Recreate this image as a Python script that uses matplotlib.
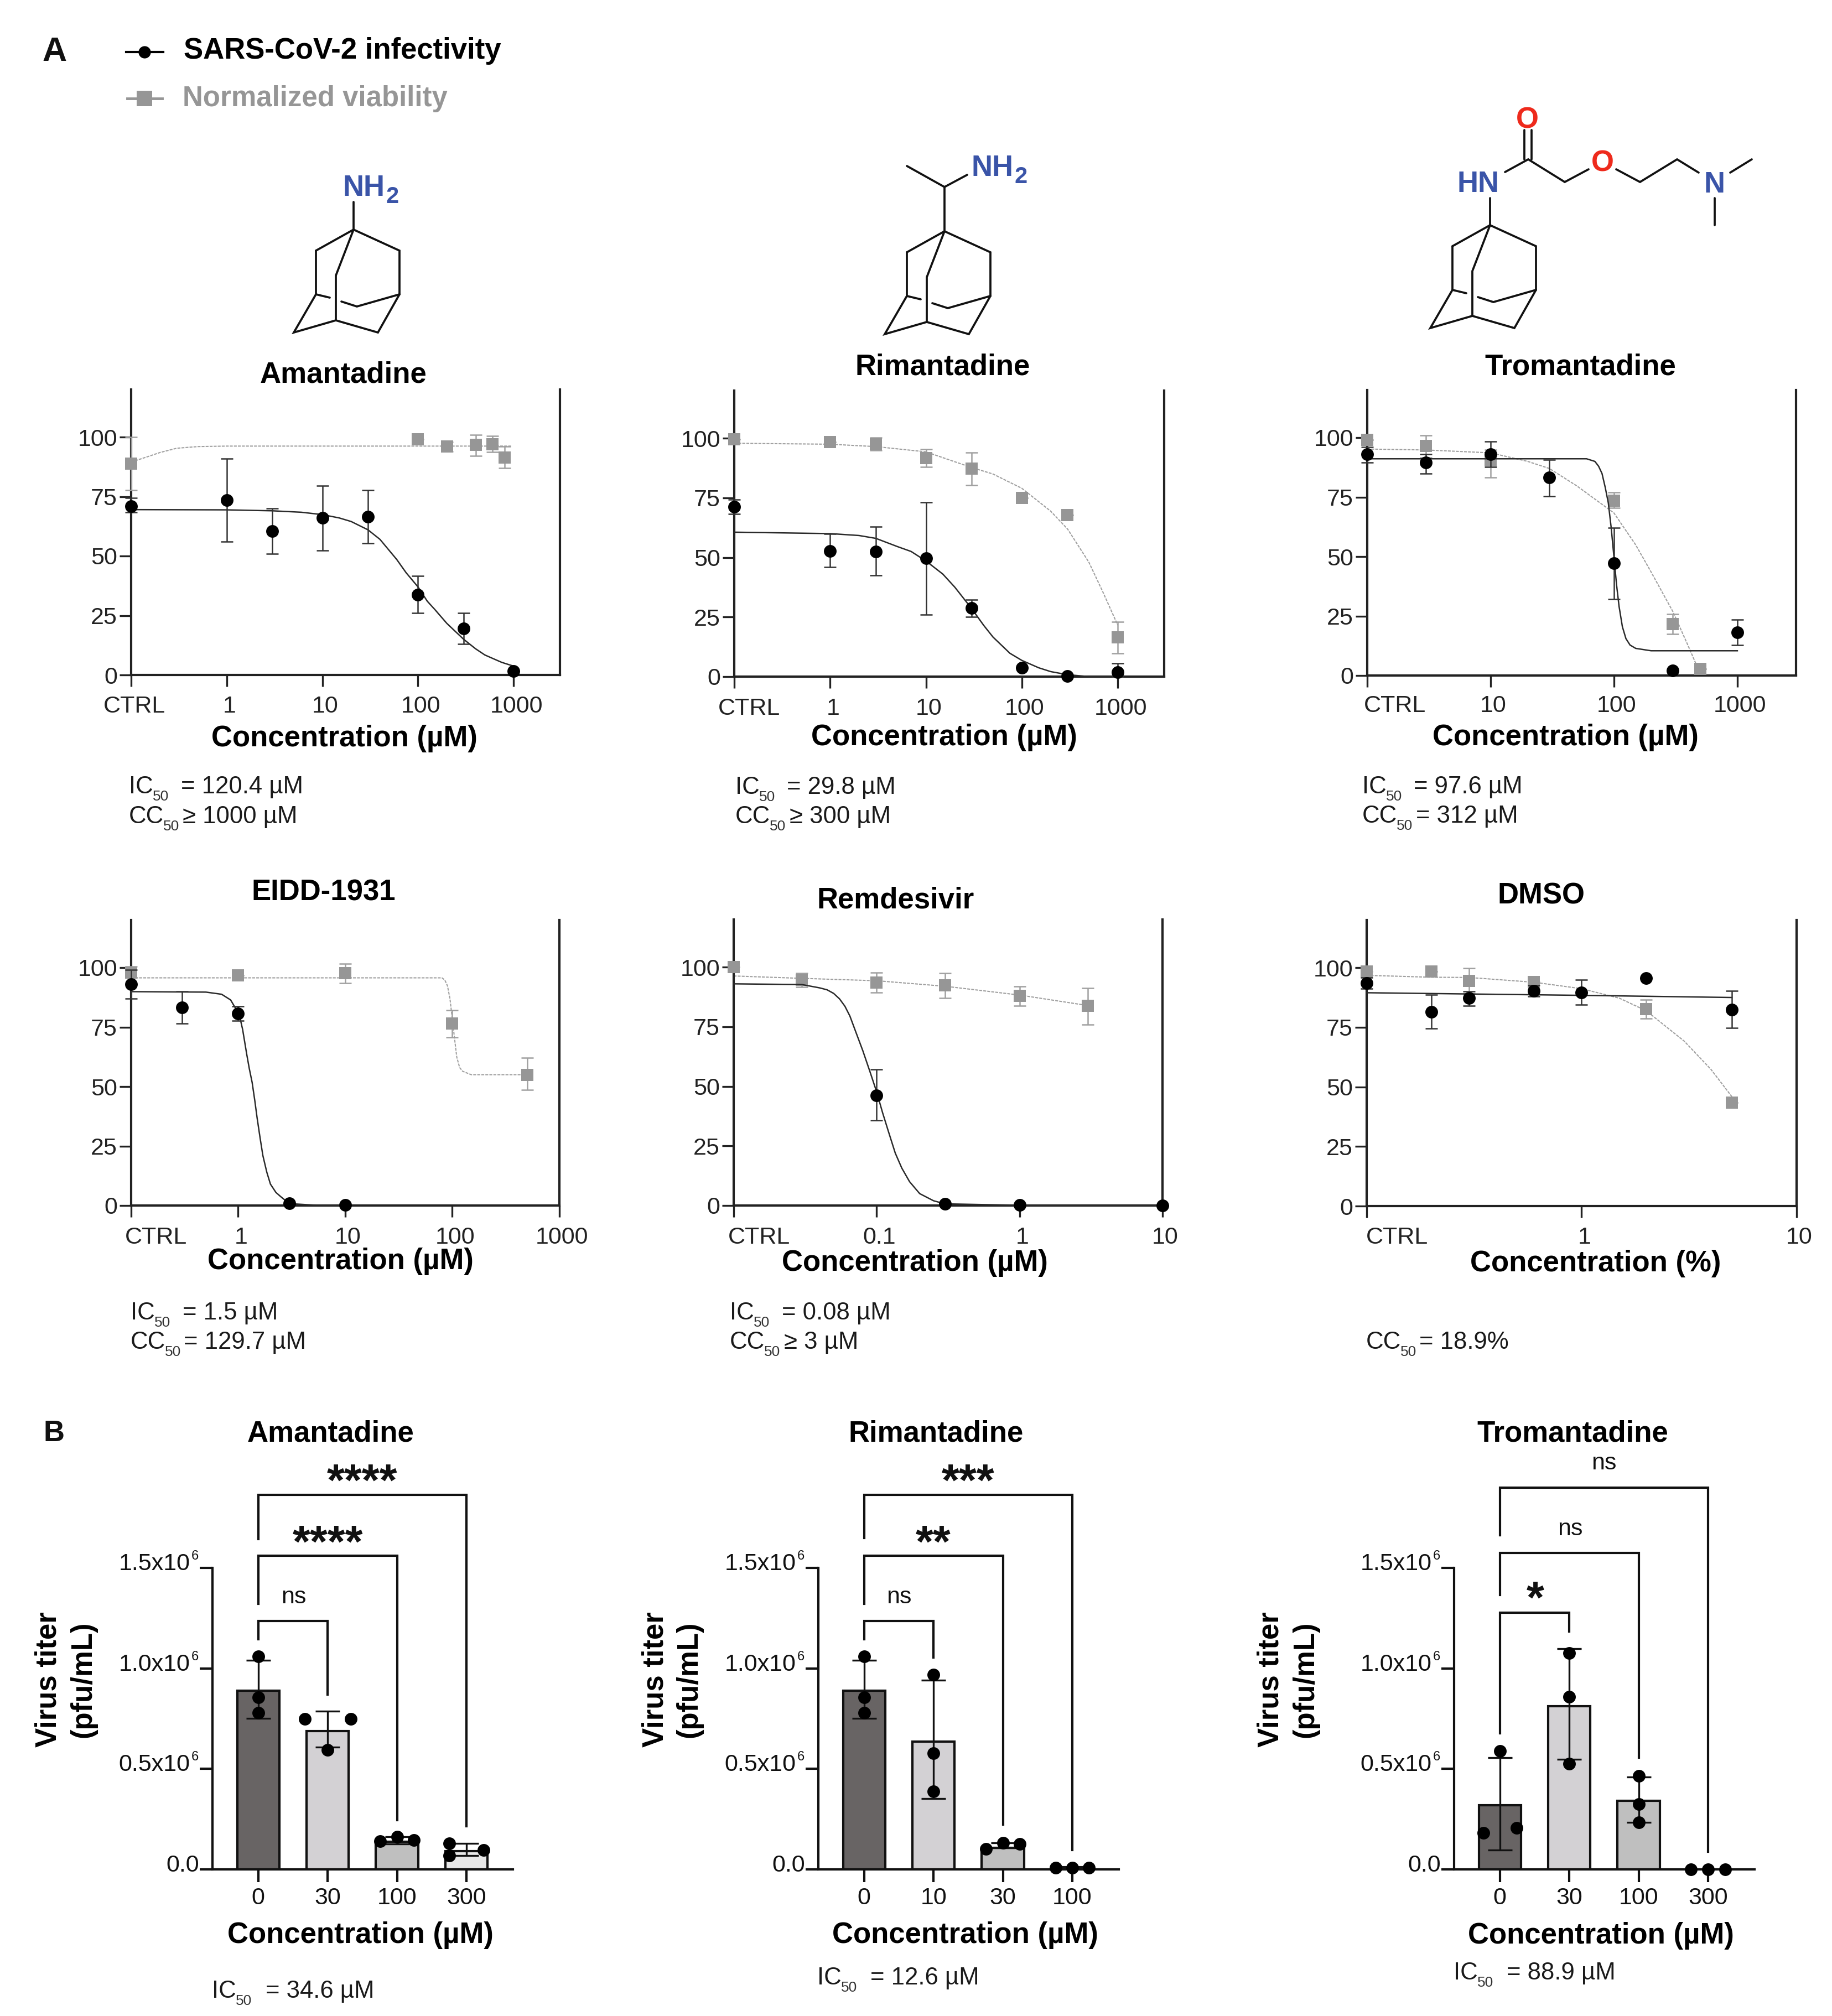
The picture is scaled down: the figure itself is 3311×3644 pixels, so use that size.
import matplotlib
matplotlib.use('Agg')
import matplotlib.pyplot as plt
from matplotlib.transforms import ScaledTranslation

plt.rcParams['font.family'] = ['Liberation Sans', 'DejaVu Sans']

W, H = 3312, 3644
BLACK = '#111111'
GREY = '#969696'
GREY_LINE = '#a0a0a0'
BLUE = '#3a54a8'
RED = '#ee2a1c'

# panel A data: concentration, mean, upper and lower error bar, then fit curve points
aman_x = [0.1, 1, 3, 10, 30, 100, 300, 1000]
aman_inf = [71, 73.6, 60.5, 66, 66.4, 33.7, 19.5, 1.7]
aman_inf_hi = [74.4, 91, 70, 79.6, 77.7, 41.6, 26, 1.7]
aman_inf_lo = [68.4, 56, 51, 52.4, 55.3, 26, 13, 1.7]
aman_via_x = [0.1, 100, 200, 400, 600, 800]
aman_via = [88.8, 99, 96, 96.7, 97, 91.3]
aman_via_hi = [100, 99, 98, 101, 100.4, 96]
aman_via_lo = [77.7, 99, 94, 92, 93.7, 87]
aman_fit_x = [0.1, 1, 3, 6, 10, 15, 20, 30, 40, 60, 75, 100, 125, 150, 200, 250, 300, 400, 500, 600, 750, 1000]
aman_fit = [69.5, 69.4, 69, 68.4, 67.4, 66, 64.5, 61, 57, 48.5, 43, 37, 31, 27.5, 21.7, 18, 15, 11, 8.4, 7, 5.3, 3.7]
aman_via_fit_x = [0.1, 0.15, 0.2, 0.3, 0.5, 1, 950]
aman_via_fit = [89.5, 91.8, 93.5, 95.3, 96, 96.2, 96.2]

rima_x = [0.1, 1, 3, 10, 30, 100, 300, 1000]
rima_inf = [71.2, 52.8, 52.5, 49.6, 28.8, 3.6, 0.3, 1.9]
rima_inf_hi = [74.2, 60, 62.8, 73.2, 32.2, 3.6, 0.3, 5.5]
rima_inf_lo = [68.2, 46, 42.4, 25.9, 25, 3.6, 0.3, 0]
rima_via_x = [0.1, 1, 3, 10, 30, 100, 300, 1000]
rima_via = [99.6, 98.5, 97.6, 91.7, 87.2, 75, 67.8, 16.4]
rima_via_hi = [99.6, 98.5, 100.3, 95.3, 94, 75, 67.8, 22.9]
rima_via_lo = [99.6, 98.5, 94.9, 87.9, 80.4, 75, 67.8, 9.7]
rima_fit_x = [0.1, 1, 2, 3, 5, 7, 10, 15, 20, 30, 40, 50, 75, 100, 150, 200, 300, 500, 1000]
rima_fit = [60.6, 60, 59.2, 58, 54.6, 52.5, 48.5, 43, 37.5, 28.5, 21.5, 16.6, 9.8, 6.8, 3.7, 2.1, 0.8, 0, 0]
rima_via_fit_x = [0.1, 1, 3, 10, 30, 50, 100, 200, 300, 500, 700, 1000]
rima_via_fit = [97.9, 97.5, 96.5, 94.3, 87.7, 85, 79, 69.4, 61.9, 48, 35.5, 21.6]

trom_x = [1, 3, 10, 30, 100, 300, 1000]
trom_inf = [93, 89.5, 93, 83.2, 47.2, 2, 18.2]
trom_inf_hi = [96, 93, 98.3, 90.7, 62, 2, 23.6]
trom_inf_lo = [89.6, 85, 87.6, 75.4, 32, 2, 12.8]
trom_via_x = [1, 3, 10, 100, 300, 500]
trom_via = [99, 96.6, 90.4, 73.5, 21.7, 2.7]
trom_via_hi = [99, 101, 95, 77, 25.9, 2.7]
trom_via_lo = [99, 91.7, 83.2, 70.4, 17.4, 2.7]
trom_fit_x = [1, 60, 70, 75, 80, 85, 90, 95, 100, 105, 110, 117, 125, 135, 150, 200, 1000]
trom_fit = [91.1, 91.1, 90, 88, 84.9, 79, 72.5, 62, 49.7, 38, 29, 20.5, 15.5, 12.8, 11.4, 10.4, 10.4]
trom_via_fit_x = [1, 3, 10, 20, 30, 50, 100, 150, 200, 300, 400, 470]
trom_via_fit = [95.2, 94.8, 93.6, 90, 87, 79.7, 68.3, 54.9, 43.5, 26.9, 12.4, 4]

eidd_x = [0.1, 0.3, 1, 3, 10]
eidd_inf = [93, 83.3, 80.8, 1, 0.2]
eidd_inf_hi = [99, 90, 83.7, 1, 0.2]
eidd_inf_lo = [87, 76.4, 77.7, 1, 0.2]
eidd_via_x = [0.1, 1, 10, 100, 500]
eidd_via = [98, 96.8, 97.7, 76.4, 55]
eidd_via_hi = [100.4, 96.8, 101.6, 82, 62]
eidd_via_lo = [95.7, 96.8, 93.6, 70.8, 48.5]
eidd_fit_x = [0.1, 0.5, 0.7, 0.85, 1, 1.05, 1.1, 1.2, 1.27, 1.35, 1.43, 1.5, 1.6, 1.7, 1.85, 2, 2.25, 2.5, 3, 5, 10]
eidd_fit = [89.9, 89.7, 88.8, 86.4, 81, 78, 74, 63.7, 57.5, 51.7, 44, 37, 28.5, 21, 14, 9, 5.5, 3.7, 0.8, 0.2, 0]
eidd_via_fit_x = [0.1, 80, 85, 90, 95, 100, 105, 110, 117, 125, 150, 500]
eidd_via_fit = [95.7, 95.7, 94.8, 92.4, 87, 78.4, 70, 62.4, 58, 56.4, 55, 55]

remd_x = [0.1, 0.3, 1, 10]
remd_inf = [46.3, 0.7, 0.3, 0]
remd_inf_hi = [57, 0.7, 0.3, 0]
remd_inf_lo = [35.7, 0.7, 0.3, 0]
remd_via_x = [0.01, 0.03, 0.1, 0.3, 1, 3]
remd_via = [100, 94.7, 93.5, 92.3, 88, 83.8]
remd_via_hi = [100, 97.6, 97.7, 97.6, 92, 91.2]
remd_via_lo = [100, 91.6, 89.3, 87, 83.9, 76]
remd_fit_x = [0.01, 0.03, 0.04, 0.045, 0.05, 0.055, 0.06, 0.065, 0.07, 0.08, 0.09, 0.1, 0.11, 0.12, 0.135, 0.15,
              0.17, 0.2, 0.25, 0.3, 1, 10]
remd_fit = [93, 92.7, 91.3, 90.5, 89, 86.7, 83.6, 79.5, 74.3, 65, 56, 47.7, 39, 31.7, 22, 15.7,
            10, 5, 2, 0.7, 0.1, 0]
remd_via_fit_x = [0.01, 0.03, 0.1, 0.3, 1, 3]
remd_via_fit = [96.3, 95.3, 94.3, 92, 88.3, 83.9]

dmso_x = [0.1, 0.2, 0.3, 0.6, 1, 2, 5]
dmso_inf = [93.5, 81.5, 87.2, 90.2, 89.7, 95.6, 82.4]
dmso_inf_hi = [95.8, 88.6, 90, 92.5, 95, 95.6, 90.4]
dmso_inf_lo = [91.2, 74.6, 84, 88, 84.4, 95.6, 74.7]
dmso_via_x = [0.1, 0.2, 0.3, 0.6, 2, 5]
dmso_via = [98.5, 98.5, 94.4, 93.9, 82.6, 43.3]
dmso_via_hi = [98.5, 98.5, 99.9, 93.9, 86.6, 43.3]
dmso_via_lo = [98.5, 98.5, 89.2, 93.9, 78.6, 43.3]
dmso_fit_x = [0.1, 1, 5]
dmso_fit = [89.5, 88.4, 87.5]
dmso_via_fit_x = [0.1, 0.2, 0.3, 0.6, 1, 1.5, 2, 3, 4, 5]
dmso_via_fit = [96.8, 96, 95.9, 93.9, 91.2, 87.2, 81.9, 69.2, 57.3, 45.9]

# panel B data, titres in units of 1e6 pfu/mL
b_dose_aman = ['0', '30', '100', '300']
b_dose_rima = ['0', '10', '30', '100']
b_dose_trom = ['0', '30', '100', '300']
b_bar_aman = [0.889, 0.687, 0.135, 0.09]
b_bar_rima = [0.889, 0.634, 0.106, 0.01]
b_bar_trom = [0.317, 0.812, 0.339, 0]
b_hi_aman = [1.04, 0.787, 0.16, 0.129]
b_lo_aman = [0.752, 0.607, 0.125, 0.067]
b_hi_rima = [1.04, 0.94, 0.131, 0.01]
b_lo_rima = [0.752, 0.35, 0.106, 0.01]
b_hi_trom = [0.554, 1.098, 0.46, 0]
b_lo_trom = [0.096, 0.546, 0.233, 0]
b_dots_aman = [[1.059, 0.856, 0.777], [0.748, 0.748, 0.595], [0.14, 0.16, 0.145], [0.129, 0.067, 0.096]]
b_dots_rima = [[1.059, 0.856, 0.777], [0.967, 0.576, 0.386], [0.1, 0.131, 0.125], [0.008, 0.008, 0.008]]
b_dots_trom = [[0.587, 0.18, 0.205], [1.076, 0.857, 0.524], [0.464, 0.323, 0.233], [0, 0, 0]]
bar_colors = ['#686464', '#d3d1d4', '#bfbfbf', '#e8e8e8']
y_ticks_b = [0, 0.5, 1.0, 1.5]
y_labels_b = ['0.0', '0.5x10', '1.0x10', '1.5x10']

# spread of the dots in each bar
jit_aman = [[0, 0, 0], [-0.33, 0.33, 0], [-0.24, 0, 0.24], [-0.25, -0.25, 0.25]]
jit_rima = [[0, 0, 0], [0, 0, 0], [-0.24, 0, 0.24], [-0.24, 0, 0.24]]
jit_trom = [[0, -0.24, 0.24], [0, 0, 0], [0, 0, 0], [-0.25, 0, 0.25]]

fig = plt.figure(figsize=(W / 100, H / 100), dpi=100)


def box(l, t, r, b):
    return fig.add_axes([l / W, 1 - b / H, (r - l) / W, (b - t) / H])


over = fig.add_axes([0, 0, 1, 1], zorder=10)
over.set_xlim(0, W)
over.set_ylim(H, 0)
over.axis('off')


def txt(x, y, s, size=31, weight='normal', color=BLACK, ha='left', **kw):
    over.text(x, y, s, fontsize=size, fontweight=weight, color=color, ha=ha, va='baseline', **kw)


def bonds(*pts, lw=2.7):
    over.plot([p[0] for p in pts], [p[1] for p in pts], color=BLACK, lw=lw,
              solid_capstyle='round', solid_joinstyle='miter')


def adamantane(ax0, ay0):
    def p(dx, dy):
        return (ax0 + dx, ay0 + dy)
    bonds(p(-68, 38), p(0, 0), p(83, 38), p(83, 117))
    bonds(p(-68, 38), p(-68, 117), p(-108, 186), p(-32, 164), p(44, 186), p(83, 117))
    bonds(p(0, 0), p(-32, 83), p(-32, 164))
    bonds(p(-68, 117), p(-43, 123))
    bonds(p(-22, 130), p(6, 139), p(83, 117))


def nh2(x, y):
    txt(x, y, 'NH', 38, 'bold', BLUE)
    txt(x + 78, y + 13, '2', 30, 'bold', BLUE)


def curve_panel(l, t, r, b, xlim, xticks, xlabels, ctrl_shift, x, inf, hi, lo, vx, via, vhi, vlo,
                fx, fit, fvx, vfit, label_pad=12):
    ax = box(l, t, r, b)
    ax.set_xscale('log')
    ax.plot(fvx, vfit, color=GREY_LINE, lw=1.5, ls=(0, (2.5, 1)), zorder=2, clip_on=False)
    ax.errorbar(vx, via, yerr=[[m - v for m, v in zip(via, vlo)], [v - m for m, v in zip(via, vhi)]],
                fmt='none', ecolor='#a0a0a0', elinewidth=1.8, capsize=8, capthick=1.8,
                zorder=3, clip_on=False)
    ax.plot(vx, via, 's', color=GREY, ms=15.5, mew=0, zorder=4, clip_on=False)
    ax.plot(fx, fit, color='#2a2a2a', lw=1.8, zorder=5, clip_on=False)
    ax.errorbar(x, inf, yerr=[[m - v for m, v in zip(inf, lo)], [v - m for m, v in zip(inf, hi)]],
                fmt='none', ecolor='#333333', elinewidth=1.8, capsize=8, capthick=1.8,
                zorder=6, clip_on=False)
    ax.plot(x, inf, 'o', color='black', ms=16.5, mew=0, zorder=7, clip_on=False)
    ax.set_xlim(*xlim)
    ax.set_ylim(0, 120)
    ax.set_yticks([0, 25, 50, 75, 100])
    ax.set_xticks(xticks, xlabels)
    ax.minorticks_off()
    for side in ['left', 'bottom', 'right']:
        ax.spines[side].set_linewidth(3)
        ax.spines[side].set_color('#222222')
    ax.spines['top'].set_visible(False)
    ax.tick_params(axis='y', length=15, width=2.4, labelsize=31, pad=3, colors='#222222')
    ax.tick_params(axis='x', length=15, width=2.4, labelsize=31, pad=label_pad, colors='#222222')
    ax.patch.set_alpha(0)
    for i, lab in enumerate(ax.get_xticklabels()):
        dx = ctrl_shift if i == 0 else 5
        lab.set_transform(lab.get_transform() + ScaledTranslation(dx / 100, 0, fig.dpi_scale_trans))
    return ax


def star_label(ax, x, y, s):
    if s == 'ns':
        ax.annotate(s, (x, y), xytext=(0, -8), textcoords='offset points', ha='center', va='baseline',
                    fontsize=31, color=BLACK, annotation_clip=False)
    else:
        ax.annotate(s, (x, y), xytext=(0, -27), textcoords='offset points', ha='center', va='baseline',
                    fontsize=59, fontweight='bold', color=BLACK, annotation_clip=False)


def bar_panel(l, dose, bars, hi, lo, dots, jit, brackets, labels):
    ax = box(l, 2834, l + 543, 3378.5)
    xs = range(len(dose))
    ax.bar(xs, bars, width=0.61, color=bar_colors, edgecolor=BLACK, linewidth=3, zorder=2)
    ax.errorbar(xs, bars, yerr=[[m - v for m, v in zip(bars, lo)], [v - m for m, v in zip(bars, hi)]],
                fmt='none', ecolor=BLACK, elinewidth=2.4, capsize=15.5, capthick=2.4, zorder=3)
    for i, d in enumerate(dots):
        ax.plot([i + j for j in jit[i]], d, 'o', color='black', ms=16.5, mew=0, zorder=4, clip_on=False)
    for (x0, x1, top, e0, e1) in brackets:
        ax.plot([x0, x0, x1, x1], [e0, top, top, e1], color=BLACK, lw=3, clip_on=False, zorder=5,
                solid_joinstyle='miter')
    for x, y, s in labels:
        star_label(ax, x, y, s)
    ax.set_xlim(-0.66, 3.67)
    ax.set_ylim(0, 1.5)
    ax.set_xticks(list(xs), dose)
    ax.set_yticks(y_ticks_b, [''] * 4)
    for side in ['left', 'bottom']:
        ax.spines[side].set_linewidth(3)
        ax.spines[side].set_color(BLACK)
    ax.spines['top'].set_visible(False)
    ax.spines['right'].set_visible(False)
    ax.tick_params(length=16.5, width=3, color=BLACK)
    ax.tick_params(axis='x', labelsize=31, pad=7, labelcolor=BLACK)
    ax.patch.set_alpha(0)
    for val, lab in zip(y_ticks_b, y_labels_b):
        off = -17 if val == 0 else -29
        ax.annotate(lab, (0, val), xycoords=('axes fraction', 'data'), xytext=(off, 5),
                    textcoords='offset points', ha='right', va='center', fontsize=31, color=BLACK)
        if val > 0:
            ax.annotate('6', (0, val), xycoords=('axes fraction', 'data'), xytext=(-18, 15),
                        textcoords='offset points', ha='right', va='center', fontsize=17, color=BLACK)
    return ax


# row one
curve_panel(237, 704, 1012, 1220, (0.1, 3050), [0.1, 1, 10, 100, 1000], ['CTRL', '1', '10', '100', '1000'], 6,
            aman_x, aman_inf, aman_inf_hi, aman_inf_lo, aman_via_x, aman_via, aman_via_hi, aman_via_lo,
            aman_fit_x, aman_fit, aman_via_fit_x, aman_via_fit)
curve_panel(1327, 706, 2104, 1223, (0.1, 3050), [0.1, 1, 10, 100, 1000], ['CTRL', '1', '10', '100', '1000'], 27,
            rima_x, rima_inf, rima_inf_hi, rima_inf_lo, rima_via_x, rima_via, rima_via_hi, rima_via_lo,
            rima_fit_x, rima_fit, rima_via_fit_x, rima_via_fit)
curve_panel(2471, 705, 3246, 1221, (1, 2990), [1, 10, 100, 1000], ['CTRL', '10', '100', '1000'], 50,
            trom_x, trom_inf, trom_inf_hi, trom_inf_lo, trom_via_x, trom_via, trom_via_hi, trom_via_lo,
            trom_fit_x, trom_fit, trom_via_fit_x, trom_via_fit, label_pad=10)

# row two
curve_panel(237, 1663, 1011, 2179, (0.1, 1000), [0.1, 1, 10, 100, 1000], ['CTRL', '1', '10', '100', '1000'], 45,
            eidd_x, eidd_inf, eidd_inf_hi, eidd_inf_lo, eidd_via_x, eidd_via, eidd_via_hi, eidd_via_lo,
            eidd_fit_x, eidd_fit, eidd_via_fit_x, eidd_via_fit)
curve_panel(1326, 1662, 2101, 2179, (0.01, 10), [0.01, 0.1, 1, 10], ['CTRL', '0.1', '1', '10'], 46,
            remd_x, remd_inf, remd_inf_hi, remd_inf_lo, remd_via_x, remd_via, remd_via_hi, remd_via_lo,
            remd_fit_x, remd_fit, remd_via_fit_x, remd_via_fit)
curve_panel(2470, 1663, 3247, 2180, (0.1, 10), [0.1, 1, 10], ['CTRL', '1', '10'], 55,
            dmso_x, dmso_inf, dmso_inf_hi, dmso_inf_lo, dmso_via_x, dmso_via, dmso_via_hi, dmso_via_lo,
            dmso_fit_x, dmso_fit, dmso_via_fit_x, dmso_via_fit)

# row three: bracket = x0, x1, top, left end, right end
bar_panel(384, b_dose_aman, b_bar_aman, b_hi_aman, b_lo_aman, b_dots_aman, jit_aman,
          [(0, 1, 1.236, 1.144, 0.869), (0, 2, 1.56, 1.32, 0.243), (0, 3, 1.864, 1.643, 0.213)],
          [(0.51, 1.353, 'ns'), (1.0, 1.66, '****'), (1.5, 1.966, '****')])
bar_panel(1479, b_dose_rima, b_bar_rima, b_hi_rima, b_lo_rima, b_dots_rima, jit_rima,
          [(0, 1, 1.236, 1.144, 1.055), (0, 2, 1.56, 1.32, 0.223), (0, 3, 1.864, 1.649, 0.096)],
          [(0.5, 1.353, 'ns'), (1.0, 1.66, '**'), (1.5, 1.966, '***')])
bar_panel(2628, b_dose_trom, b_bar_trom, b_hi_trom, b_lo_trom, b_dots_trom, jit_trom,
          [(0, 1, 1.276, 0.675, 1.184), (0, 2, 1.575, 1.364, 0.554), (0, 3, 1.9, 1.663, 0.088)],
          [(0.51, 1.38, '*'), (1.01, 1.693, 'ns'), (1.5, 2.02, 'ns')])

# legend and panel letters
txt(76, 110, 'A', 44, 'bold')
txt(79, 2605, 'B', 38, 'bold')
over.plot([228, 295], [94, 94], color='black', lw=3)
over.plot([261], [94], 'o', color='black', ms=16, mew=0)
txt(332, 106, 'SARS-CoV-2 infectivity', 38, 'bold', 'black')
over.plot([230, 293], [178, 178], color=GREY, lw=3.5)
over.plot([261], [178], 's', color=GREY, ms=20, mew=0)
txt(330, 192, 'Normalized viability', 36.7, 'bold', GREY)

# titles
for x, y, s in [(621, 691, 'Amantadine'), (1704, 677, 'Rimantadine'), (2856, 677, 'Tromantadine'),
                (585, 1627, 'EIDD-1931'), (1619, 1642, 'Remdesivir'), (2786, 1633, 'DMSO'),
                (598, 2606, 'Amantadine'), (1692, 2606, 'Rimantadine'), (2842, 2606, 'Tromantadine')]:
    txt(x, y, s, 38, 'bold', 'black', ha='center')

# axis titles
for x, y, s in [(622, 1349, 'Concentration (µM)'), (1706, 1347, 'Concentration (µM)'),
                (2829, 1347, 'Concentration (µM)'), (615, 2294, 'Concentration (µM)'),
                (1653, 2297, 'Concentration (µM)'), (2884, 2298, 'Concentration (%)'),
                (651, 3512, 'Concentration (µM)'), (1744, 3512, 'Concentration (µM)'),
                (2893, 3513, 'Concentration (µM)')]:
    txt(x, y, s, 38, 'bold', 'black', ha='center')
for x0, x1 in [(88, 150), (1185, 1245), (2297, 2359)]:
    over.text(x0, 3036, 'Virus titer', rotation=90, fontsize=38, fontweight='bold', color='black',
              ha='center', va='center')
    over.text(x1, 3036, '(pfu/mL)', rotation=90, fontsize=38, fontweight='bold', color='black',
              ha='center', va='center')


# IC50 / CC50 notes
def ic_note(x, y, kind, rest, rest_x):
    sub = 43 if kind == 'IC' else 62
    txt(x - 3, y, kind, 31.5, color='#1a1a1a')
    txt(x + sub - 3, y + 13, '50', 19, color='#333333')
    txt(rest_x - 3, y, rest, 31.5, color='#1a1a1a')


ic_note(236, 1434, 'IC', '= 120.4 µM', 330)
ic_note(236, 1488, 'CC', '≥ 1000 µM', 333)
ic_note(1332, 1435, 'IC', '= 29.8 µM', 1425)
ic_note(1332, 1488, 'CC', '≥ 300 µM', 1430)
ic_note(2465, 1434, 'IC', '= 97.6 µM', 2558)
ic_note(2465, 1487, 'CC', '= 312 µM', 2562)
ic_note(239, 2385, 'IC', '= 1.5 µM', 333)
ic_note(239, 2438, 'CC', '= 129.7 µM', 335)
ic_note(1322, 2385, 'IC', '= 0.08 µM', 1416)
ic_note(1322, 2438, 'CC', '≥ 3 µM', 1420)
ic_note(2472, 2438, 'CC', '= 18.9%', 2568)
ic_note(386, 3611, 'IC', '= 34.6 µM', 483)
ic_note(1480, 3587, 'IC', '= 12.6 µM', 1576)
ic_note(2630, 3578, 'IC', '= 88.9 µM', 2726)

# structures
adamantane(639, 415)
bonds((639, 415), (639, 365))
nh2(620, 354)

adamantane(1707, 418)
bonds((1707, 418), (1707, 338), (1639, 300))
bonds((1707, 338), (1748, 316))
nh2(1756, 318)

adamantane(2693, 407)
bonds((2693, 407), (2693, 358))
txt(2634, 347, 'HN', 38, 'bold', BLUE)
bonds((2720, 311), (2762, 288), (2828, 329), (2871, 306))
bonds((2755, 288), (2755, 235))
bonds((2768, 288), (2768, 235))
txt(2760, 232, 'O', 38, 'bold', RED, ha='center')
txt(2896, 309, 'O', 38, 'bold', RED, ha='center')
bonds((2921, 306), (2964, 329), (3031, 288), (3070, 312))
txt(3099, 348, 'N', 38, 'bold', BLUE, ha='center')
bonds((3127, 312), (3166, 288))
bonds((3099, 358), (3099, 407))

fig.savefig('out.png', dpi=100, facecolor='white')
